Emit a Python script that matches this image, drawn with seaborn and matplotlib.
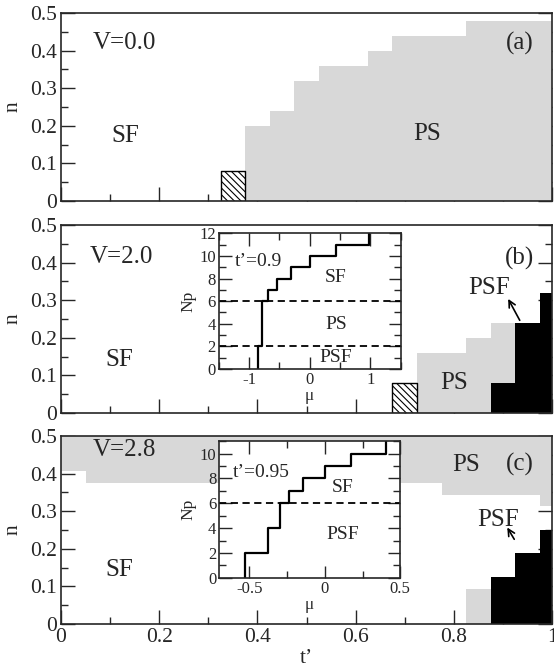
import numpy as np
import pandas as pd
import matplotlib
matplotlib.use("Agg")
import matplotlib.pyplot as plt
import seaborn as sns
from matplotlib.ticker import MultipleLocator, FixedLocator, FixedFormatter

sns.set_theme(style="ticks")
plt.rcParams["font.family"] = ["Liberation Serif", "DejaVu Serif"]
plt.rcParams["axes.unicode_minus"] = False
plt.rcParams["hatch.linewidth"] = 0.8

# ---------------- data ----------------
# panel (a), V=0.0
a_ps_t = [0.375, 0.425, 0.475, 0.525, 0.625, 0.675, 0.825, 1.0]
a_ps_n = [0.20, 0.24, 0.32, 0.36, 0.40, 0.44, 0.48]
a_hatch_t = [0.325, 0.375]
a_hatch_n = [0.08]
# panel (b), V=2.0
b_hatch_t = [0.675, 0.725]
b_hatch_n = [0.08]
b_ps_t = [0.725, 0.825, 0.875, 0.925]
b_ps_n = [0.16, 0.20, 0.24]
b_psf_t = [0.875, 0.925, 0.975, 1.0]
b_psf_n = [0.08, 0.24, 0.32]
# panel (c), V=2.8
c_pstop_t = [0.0, 0.05, 0.775, 0.975, 1.0]
c_pstop_n = [0.40625, 0.375, 0.34375, 0.3125]
c_pslow_t = [0.825, 0.875]
c_pslow_n = [0.09375]
c_psf_t = [0.875, 0.925, 0.975, 1.0]
c_psf_n = [0.125, 0.1875, 0.25]
# insets: Np vs mu staircases
b_mu_jumps = [-0.85, -0.78, -0.69, -0.54, -0.31, 0.0, 0.43, 0.97]
b_np_levels = [0, 2, 6, 7, 8, 9, 10, 11, 12]
b_dashed = [2, 6]
c_mu_jumps = [-0.526, -0.379, -0.295, -0.236, -0.143, 0.0, 0.172, 0.403]
c_np_levels = [0, 2, 4, 6, 7, 8, 9, 10, 11]
c_dashed = [6]

n_ticks = [0, 0.1, 0.2, 0.3, 0.4, 0.5]
n_ticklabels = ["0", "0.1", "0.2", "0.3", "0.4", "0.5"]
t_ticks = [0, 0.2, 0.4, 0.6, 0.8, 1.0]
t_ticklabels = ["0", "0.2", "0.4", "0.6", "0.8", "1"]

GRAY = "#d8d8d8"
FS_TICK = 15.5
FS_TXT = 18

fig = plt.figure(figsize=(5.54, 6.70), dpi=100)
L, W, H = 61 / 554, 491 / 554, 188 / 670
bottoms = [1 - 201 / 670, 1 - 413 / 670, 1 - 624 / 670]
axes = [fig.add_axes([L, b, W, H]) for b in bottoms]


def steps(ax, edges, vals, base=0.0, top=None, **kw):
    x = np.array(edges, dtype=float)
    y = np.array(list(vals) + [vals[-1]], dtype=float)
    if top is None:
        ax.fill_between(x, base, y, step="post", linewidth=0, **kw)
    else:
        ax.fill_between(x, y, top, step="post", linewidth=0, **kw)


def hatch_box(ax, edges, val):
    ax.fill_between(edges, 0, [val[0], val[0]], facecolor="white",
                    edgecolor="black", hatch="\\\\\\\\\\", linewidth=1.0, zorder=2)


def style_main(ax, show_x):
    ax.set_xlim(0, 1)
    ax.set_ylim(0, 0.5)
    ax.yaxis.set_major_locator(FixedLocator(n_ticks))
    ax.yaxis.set_major_formatter(FixedFormatter(n_ticklabels))
    ax.yaxis.set_minor_locator(MultipleLocator(0.05))
    ax.xaxis.set_major_locator(FixedLocator(t_ticks))
    ax.xaxis.set_minor_locator(MultipleLocator(0.1))
    if show_x:
        ax.xaxis.set_major_formatter(FixedFormatter(t_ticklabels))
        ax.set_xlabel("t\u2019", fontsize=FS_TICK, labelpad=1)
    else:
        ax.set_xticklabels([])
    ax.tick_params(which="both", direction="in", top=False, right=True,
                   labelsize=FS_TICK, pad=3)
    ax.tick_params(which="major", length=10, width=1.0)
    ax.tick_params(which="minor", length=5, width=1.0)
    for s in ax.spines.values():
        s.set_linewidth(1.2)
        s.set_zorder(5)
    ax.set_ylabel("n", fontsize=FS_TICK, labelpad=5)
    ax.set_facecolor("white")


# panel (a)
ax = axes[0]
steps(ax, a_ps_t, a_ps_n, color=GRAY, zorder=1)
hatch_box(ax, a_hatch_t, a_hatch_n)
style_main(ax, False)
ax.text(0.13, 0.42, "V=0.0", fontsize=FS_TXT, ha="center", va="center")
ax.text(0.13, 0.173, "SF", fontsize=FS_TXT, ha="center", va="center")
ax.text(0.746, 0.177, "PS", fontsize=FS_TXT, ha="center", va="center")
ax.text(0.934, 0.42, "(a)", fontsize=FS_TXT, ha="center", va="center")

# panel (b)
ax = axes[1]
steps(ax, b_ps_t, b_ps_n, color=GRAY, zorder=1)
steps(ax, b_psf_t, b_psf_n, color="black", zorder=1.5)
hatch_box(ax, b_hatch_t, b_hatch_n)
style_main(ax, False)
ax.text(0.123, 0.416, "V=2.0", fontsize=FS_TXT, ha="center", va="center")
ax.text(0.119, 0.142, "SF", fontsize=FS_TXT, ha="center", va="center")
ax.text(0.80, 0.08, "PS", fontsize=FS_TXT, ha="center", va="center")
ax.text(0.934, 0.41, "(b)", fontsize=FS_TXT, ha="center", va="center")
ax.text(0.872, 0.332, "PSF", fontsize=FS_TXT, ha="center", va="center")
ax.annotate("", xy=(0.908, 0.31), xytext=(0.937, 0.24),
            arrowprops=dict(arrowstyle="->", lw=1.2, color="black"))

# panel (c)
ax = axes[2]
steps(ax, c_pstop_t, c_pstop_n, top=0.5, color=GRAY, zorder=1)
steps(ax, c_pslow_t, c_pslow_n, color=GRAY, zorder=1)
steps(ax, c_psf_t, c_psf_n, color="black", zorder=1.5)
style_main(ax, True)
ax.text(0.13, 0.4625, "V=2.8", fontsize=FS_TXT, ha="center", va="center")
ax.text(0.119, 0.143, "SF", fontsize=FS_TXT, ha="center", va="center")
ax.text(0.826, 0.424, "PS", fontsize=FS_TXT, ha="center", va="center")
ax.text(0.934, 0.424, "(c)", fontsize=FS_TXT, ha="center", va="center")
ax.text(0.89, 0.277, "PSF", fontsize=FS_TXT, ha="center", va="center")
ax.annotate("", xy=(0.906, 0.263), xytext=(0.926, 0.219),
            arrowprops=dict(arrowstyle="->", lw=1.2, color="black"))


# ---------------- insets ----------------
def inset(parent, rect, jumps, levels, dashed, xlim, ylim, xmin,
          xticks, xticklabels, label, texts):
    ins = parent.inset_axes(rect)
    ins.set_facecolor("white")
    ins.set_zorder(4)
    df = pd.DataFrame({"mu": list(jumps) + [jumps[-1]], "Np": levels})
    sns.lineplot(data=df, x="mu", y="Np", ax=ins, estimator=None, sort=False,
                 drawstyle="steps-pre", color="black", linewidth=1.6)
    for d in dashed:
        ins.axhline(d, color="black", lw=1.3, ls=(0, (4, 2.5)))
    ins.set_xlim(*xlim)
    ins.set_ylim(*ylim)
    ins.xaxis.set_major_locator(FixedLocator(xticks))
    ins.xaxis.set_major_formatter(FixedFormatter(xticklabels))
    ins.xaxis.set_minor_locator(MultipleLocator(xmin))
    ins.yaxis.set_major_locator(MultipleLocator(2))
    ins.yaxis.set_minor_locator(MultipleLocator(1))
    ins.tick_params(which="both", direction="in", top=True, right=True,
                    labelsize=12, pad=2)
    ins.tick_params(which="major", length=9, width=1.0)
    ins.tick_params(which="minor", length=5, width=1.0)
    for s in ins.spines.values():
        s.set_linewidth(1.2)
    ins.set_xlabel("\u03bc", fontsize=12.5, labelpad=0)
    ins.set_ylabel("Np", fontsize=12.5, labelpad=2)
    ins.text(*label[0], label[1], fontsize=14, ha="center", va="center")
    for (x, y, s) in texts:
        ins.text(x, y, s, fontsize=14, ha="center", va="center")
    return ins


inset(axes[1], [0.321, 0.234, 0.371, 0.722], b_mu_jumps, b_np_levels, b_dashed,
      (-1.5, 1.5), (0, 12), 0.5, [-1, 0, 1], ["-1", "0", "1"],
      ((-0.85, 9.5), "t\u2019=0.9"),
      [(0.43, 8.1, "SF"), (0.43, 3.9, "PS"), (0.43, 1.0, "PSF")])

inset(axes[2], [0.322, 0.245, 0.369, 0.728], c_mu_jumps, c_np_levels, c_dashed,
      (-0.7, 0.5), (0, 11), 0.25, [-0.5, 0, 0.5], ["-0.5", "0", "0.5"],
      ((-0.42, 8.5), "t\u2019=0.95"),
      [(0.12, 7.3, "SF"), (0.12, 3.5, "PSF")])

fig.savefig("out.png", dpi=100)
